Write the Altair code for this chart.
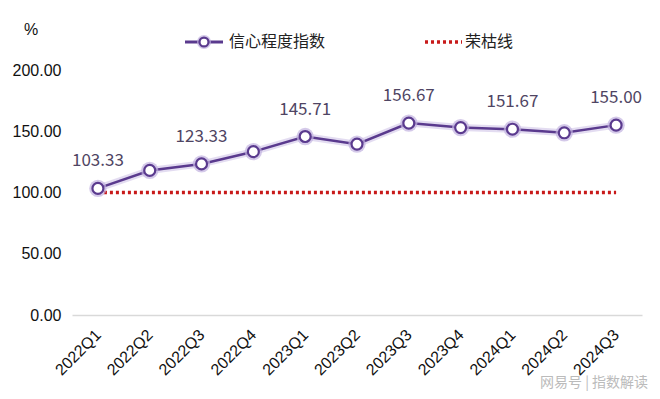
import altair as alt
import pandas as pd

quarters = ["2022Q1", "2022Q2", "2022Q3", "2022Q4", "2023Q1", "2023Q2",
            "2023Q3", "2023Q4", "2024Q1", "2024Q2", "2024Q3"]
confidence = [103.33, 118.00, 123.33, 133.33, 145.71, 139.50,
              156.67, 153.00, 151.67, 148.75, 155.00]
boom_bust = [100] * len(quarters)
show_label = [True, False, True, False, True, False, True, False, True, False, True]
y_ticks = [0, 50, 100, 150, 200]

series_name = "信心程度指数"
line_name = "荣枯线"

PURPLE = "#5a3a8e"
HALO = "#c2b2e0"
RED = "#c81a1a"
FONT = "Noto Sans CJK SC"
LATIN = "Liberation Sans"

df = pd.DataFrame({"q": quarters, "v": confidence, "ref": boom_bust,
                   "show": show_label})
df["label"] = [f"{v:.2f}" if s else "" for v, s in zip(confidence, show_label)]

x_enc = alt.X("q:O", sort=quarters, title=None,
              scale=alt.Scale(paddingOuter=0.5),
              axis=alt.Axis(labelAngle=-45, labelAlign="right", labelBaseline="middle",
                            labelFontSize=16, labelColor="#111", labelFont=LATIN,
                            labelPadding=17, ticks=False, domain=True,
                            domainColor="#d9d9d9", domainWidth=1.5, grid=False))
y_enc = alt.Y("v:Q", title=None,
              scale=alt.Scale(domain=[0, 200], nice=False),
              axis=alt.Axis(values=y_ticks, format=".2f", labelFontSize=16,
                            labelColor="#111", labelFont=LATIN, labelPadding=11,
                            ticks=False, domain=False, grid=False))

base = alt.Chart(df)

ref_line = base.mark_line(color=RED, strokeWidth=3.5, strokeDash=[3, 3]).encode(
    x=x_enc, y=alt.Y("ref:Q", scale=alt.Scale(domain=[0, 200], nice=False)))

halo_line = base.mark_line(color=HALO, strokeWidth=7, opacity=0.45).encode(x=x_enc, y=y_enc)
main_line = base.mark_line(color=PURPLE, strokeWidth=2.5).encode(x=x_enc, y=y_enc)
halo_pts = base.mark_point(filled=True, color=HALO, size=300, opacity=0.7).encode(x=x_enc, y=y_enc)
pts = base.mark_point(filled=True, fill="white", stroke=PURPLE, strokeWidth=2.2,
                      size=120, opacity=1).encode(x=x_enc, y=y_enc)
labels = base.mark_text(dy=-27, fontSize=17, color="#4f4563", font=FONT).encode(
    x=x_enc, y=y_enc, text="label:N")

one = alt.Chart(pd.DataFrame({"a": [0]}))
LY = -28
leg_line = one.mark_rule(color=PURPLE, strokeWidth=3).encode(
    x=alt.value(113), x2=alt.value(151), y=alt.value(LY))
leg_halo = one.mark_point(filled=True, color=HALO, size=200).encode(
    x=alt.value(132), y=alt.value(LY))
leg_pt = one.mark_point(filled=True, fill="white", stroke=PURPLE, strokeWidth=2.2,
                        size=80, opacity=1).encode(x=alt.value(132), y=alt.value(LY))
leg_text1 = one.mark_text(align="left", baseline="middle", fontSize=16, font=FONT,
                          color="#222").encode(x=alt.value(157), y=alt.value(LY),
                                               text=alt.value(series_name))
leg_dots = one.mark_rule(color=RED, strokeWidth=3.5, strokeDash=[3, 3]).encode(
    x=alt.value(353), x2=alt.value(390), y=alt.value(LY))
leg_text2 = one.mark_text(align="left", baseline="middle", fontSize=16, font=FONT,
                          color="#222").encode(x=alt.value(393), y=alt.value(LY),
                                               text=alt.value(line_name))
pct = one.mark_text(align="center", baseline="middle", fontSize=16, font=LATIN,
                    color="#111").encode(x=alt.value(-41), y=alt.value(-40),
                                         text=alt.value("%"))
watermark = one.mark_text(align="left", baseline="middle", fontSize=14, font=FONT,
                          color="#bbbbbb").encode(x=alt.value(468), y=alt.value(313),
                                                  text=alt.value("网易号 | 指数解读"))

chart = alt.layer(ref_line, halo_line, main_line, halo_pts, pts, labels,
                  leg_line, leg_halo, leg_pt, leg_text1, leg_dots, leg_text2, pct,
                  watermark).properties(
    width=570, height=245,
    autosize=alt.AutoSizeParams(type="none"),
    padding={"left": 64, "top": 62, "right": 10, "bottom": 76},
    background="white",
).configure_view(stroke=None)

chart.save("out.html", embed_options={"renderer": "svg", "actions": False})
